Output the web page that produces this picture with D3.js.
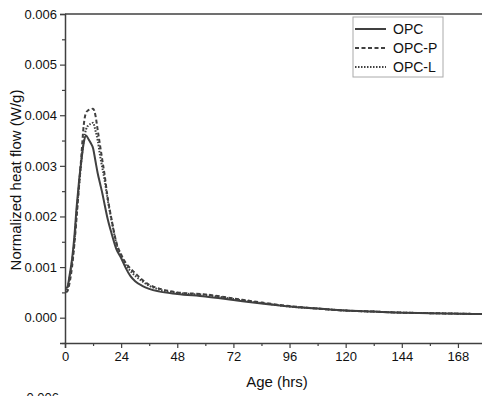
<!DOCTYPE html>
<html>
<head>
<meta charset="utf-8">
<script src="https://cdn.jsdelivr.net/npm/d3@7"></script>
<style>
  body { margin: 0; background: #fff; }
  svg { font-family: "Liberation Sans", Arial, sans-serif; }
</style>
</head>
<body>
<svg id="chart" width="482" height="396"></svg>
<script>
// hours since mixing
const hours = [0.5, 1, 2, 3, 4, 5, 6, 7, 8, 9, 10, 11, 12, 13, 14, 15, 16, 17, 18, 20, 22, 24, 26, 28, 30, 33, 36, 40, 48, 60, 72, 84, 96, 108, 120, 132, 144, 156, 168, 180];

const opc = [0.00058, 0.0006, 0.00085, 0.00115, 0.0016, 0.0022, 0.0027, 0.0031, 0.00345, 0.0036, 0.00353, 0.00345, 0.00335, 0.0031, 0.00285, 0.00265, 0.00245, 0.00222, 0.002, 0.00165, 0.00135, 0.00118, 0.00098, 0.00082, 0.00072, 0.00063, 0.00057, 0.00052, 0.00047, 0.00042, 0.00035, 0.00028, 0.00022, 0.00018, 0.00014, 0.00012, 0.0001, 0.00009, 0.00008, 0.00007];

const opcP = [0.0005, 0.00052, 0.0007, 0.001, 0.00145, 0.002, 0.0026, 0.0032, 0.0038, 0.00405, 0.0041, 0.00412, 0.00413, 0.004, 0.0037, 0.0034, 0.0031, 0.0028, 0.00245, 0.00192, 0.00148, 0.00125, 0.00108, 0.00097, 0.00088, 0.00075, 0.00065, 0.00058, 0.0005, 0.00046, 0.00038, 0.0003, 0.00023, 0.00018, 0.00014, 0.00012, 0.0001, 0.00009, 0.00008, 0.00007];

const opcL = [0.00055, 0.00058, 0.0008, 0.0011, 0.0015, 0.0021, 0.0026, 0.0031, 0.0035, 0.00372, 0.0038, 0.00383, 0.00385, 0.0037, 0.0035, 0.0032, 0.00295, 0.0027, 0.0024, 0.0019, 0.00146, 0.00122, 0.00104, 0.00092, 0.00083, 0.00072, 0.00063, 0.00056, 0.00049, 0.00045, 0.00037, 0.00029, 0.00022, 0.00018, 0.00014, 0.00012, 0.0001, 0.00009, 0.00008, 0.00007];

const seriesNames = ["OPC", "OPC-P", "OPC-L"];
const xTicks = [0, 24, 48, 72, 96, 120, 144, 168];
const yTicks = [0, 0.001, 0.002, 0.003, 0.004, 0.005, 0.006];

const margin = { left: 65, top: 14 },
  iwidth = 421,
  iheight = 329;

const svg = d3.select("#chart");
const col = "#404040";

const x = d3.scaleLinear().domain([0, 180]).range([0, iwidth]);
const y = d3.scaleLinear().domain([-0.0005, 0.006]).range([iheight, 0]);

const g = svg.append("g").attr("transform", `translate(${margin.left}, ${margin.top})`);

// minor ticks
const xMinor = d3.range(12, 180, 24);
const yMinor = d3.range(-0.0005, 0.006, 0.001);

const xAxis = g.append("g")
  .attr("transform", `translate(0, ${iheight})`)
  .call(d3.axisBottom(x).tickValues(xTicks).tickSize(5).tickPadding(4).tickFormat(d3.format("d")));
g.append("g")
  .attr("transform", `translate(0, ${iheight})`)
  .call(d3.axisBottom(x).tickValues(xMinor).tickSize(3).tickFormat(""))
  .select(".domain").remove();

g.append("g")
  .call(d3.axisLeft(y).tickValues(yTicks).tickSize(5).tickPadding(3).tickFormat(d3.format(".3f")));
g.append("g")
  .call(d3.axisLeft(y).tickValues(yMinor).tickSize(3).tickFormat(""))
  .select(".domain").remove();

// top frame
g.append("line").attr("x1", 0).attr("x2", iwidth + 10).attr("y1", 0).attr("y2", 0)
  .attr("stroke", col).attr("stroke-width", 1.5);

g.selectAll(".domain").attr("stroke", col).attr("stroke-width", 1.5);
g.selectAll(".tick line").attr("stroke", col).attr("stroke-width", 1.2);
g.selectAll(".tick text").attr("font-size", 13).attr("fill", "#111")
  .attr("font-family", "Liberation Sans, Arial, sans-serif");

const series = [
  { name: seriesNames[0], vals: opc, dash: null },
  { name: seriesNames[1], vals: opcP, dash: "4,2.5" },
  { name: seriesNames[2], vals: opcL, dash: "1.5,1.5" }
];

const line = d3.line()
  .x((d) => x(d[0]))
  .y((d) => y(d[1]))
  .curve(d3.curveMonotoneX);

g.selectAll(".series")
  .data(series)
  .join("path")
  .attr("class", "series")
  .attr("fill", "none")
  .attr("stroke", col)
  .attr("stroke-width", 2)
  .attr("stroke-dasharray", (d) => d.dash)
  .attr("d", (d) => line(hours.map((h, i) => [h, d.vals[i]])));

// axis titles
svg.append("text")
  .attr("x", 277).attr("y", 387)
  .attr("text-anchor", "middle")
  .attr("font-size", 15).attr("fill", "#111")
  .text("Age (hrs)");

svg.append("text")
  .attr("transform", "translate(21, 180) rotate(-90)")
  .attr("text-anchor", "middle")
  .attr("font-size", 15).attr("fill", "#111")
  .text("Normalized heat flow (W/g)");

// legend
const leg = svg.append("g").attr("transform", "translate(353, 17)");
leg.append("rect").attr("width", 90).attr("height", 60)
  .attr("fill", "#fff").attr("stroke", "#aaa").attr("stroke-width", 1);
const li = leg.selectAll(".li").data(series).join("g")
  .attr("transform", (d, i) => `translate(0, ${12 + i * 19})`);
li.append("line").attr("x1", 2).attr("x2", 33).attr("y1", 0).attr("y2", 0)
  .attr("stroke", col).attr("stroke-width", 2)
  .attr("stroke-dasharray", (d) => d.dash);
li.append("text").attr("x", 40).attr("y", 5)
  .attr("font-size", 14).attr("fill", "#111")
  .text((d) => d.name);

// top of the next panel's first tick label, cut by the frame
svg.append("text")
  .attr("x", 59).attr("y", 402)
  .attr("text-anchor", "end")
  .attr("font-size", 13).attr("fill", "#111")
  .text("0.006");
</script>
</body>
</html>
